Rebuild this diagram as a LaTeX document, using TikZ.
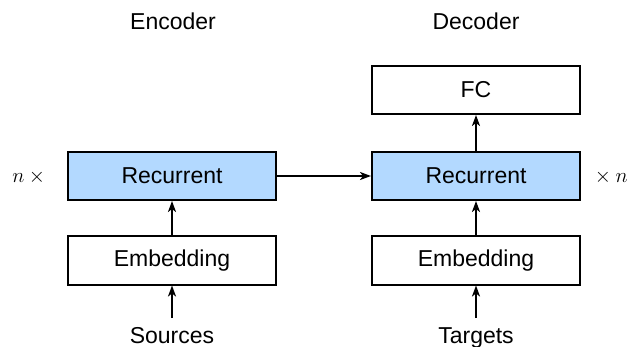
\documentclass[tikz,border=0pt]{standalone}
\usepackage{fontspec}
\setmainfont{Liberation Sans}
\usetikzlibrary{arrows.meta}
\definecolor{rnnblue}{RGB}{179,217,255}
\begin{document}
\begin{tikzpicture}[x=1pt,y=-1pt,
  font=\fontsize{23}{27}\selectfont,
  layer/.style={draw,line width=2pt,minimum width=208pt,minimum height=48pt,inner sep=0pt},
  rec/.style={layer,fill=rnnblue},
  conn/.style={-{Stealth[length=11pt,width=8pt,inset=3pt]},line width=2pt}]
\useasboundingbox (0,0) rectangle (634,347);
%Titles of the two halves
\node[anchor=base] (enc) at (173,30) {Encoder};
\node[anchor=base] (dec) at (476,30) {Decoder};
% the layers of the encoder
\node[layer] (fc) at (476,90) {FC};
\node[rec] (na) at (172,176) {Recurrent};
\node[rec] (nb) at (476,176) {Recurrent};
\node[layer] (ea) at (172,260.5) {Embedding};
\node[layer] (eb) at (476,260.5) {Embedding};
% inputs at the bottom
\node[anchor=base] (src) at (172,343) {Sources};
\node[anchor=base] (tgt) at (476,343) {Targets};
\coordinate (sa) at (172,318);
\coordinate (sb) at (476,318);
% repeat labels
\node[anchor=base,font=\fontsize{21}{25}\selectfont] (la) at (31,183) {$n\times{}$};
\node[anchor=base,font=\fontsize{21}{25}\selectfont] (lb) at (609,183) {${}\times n$};
\draw[conn] (sa) -- (ea);
\draw[conn] (sb) -- (eb);
\draw[conn] (ea) -- (na);
\draw[conn] (eb) -- (nb);
\draw[conn] (nb) -- (fc);
\draw[conn] (na) -- (nb);
\end{tikzpicture}
\end{document}
